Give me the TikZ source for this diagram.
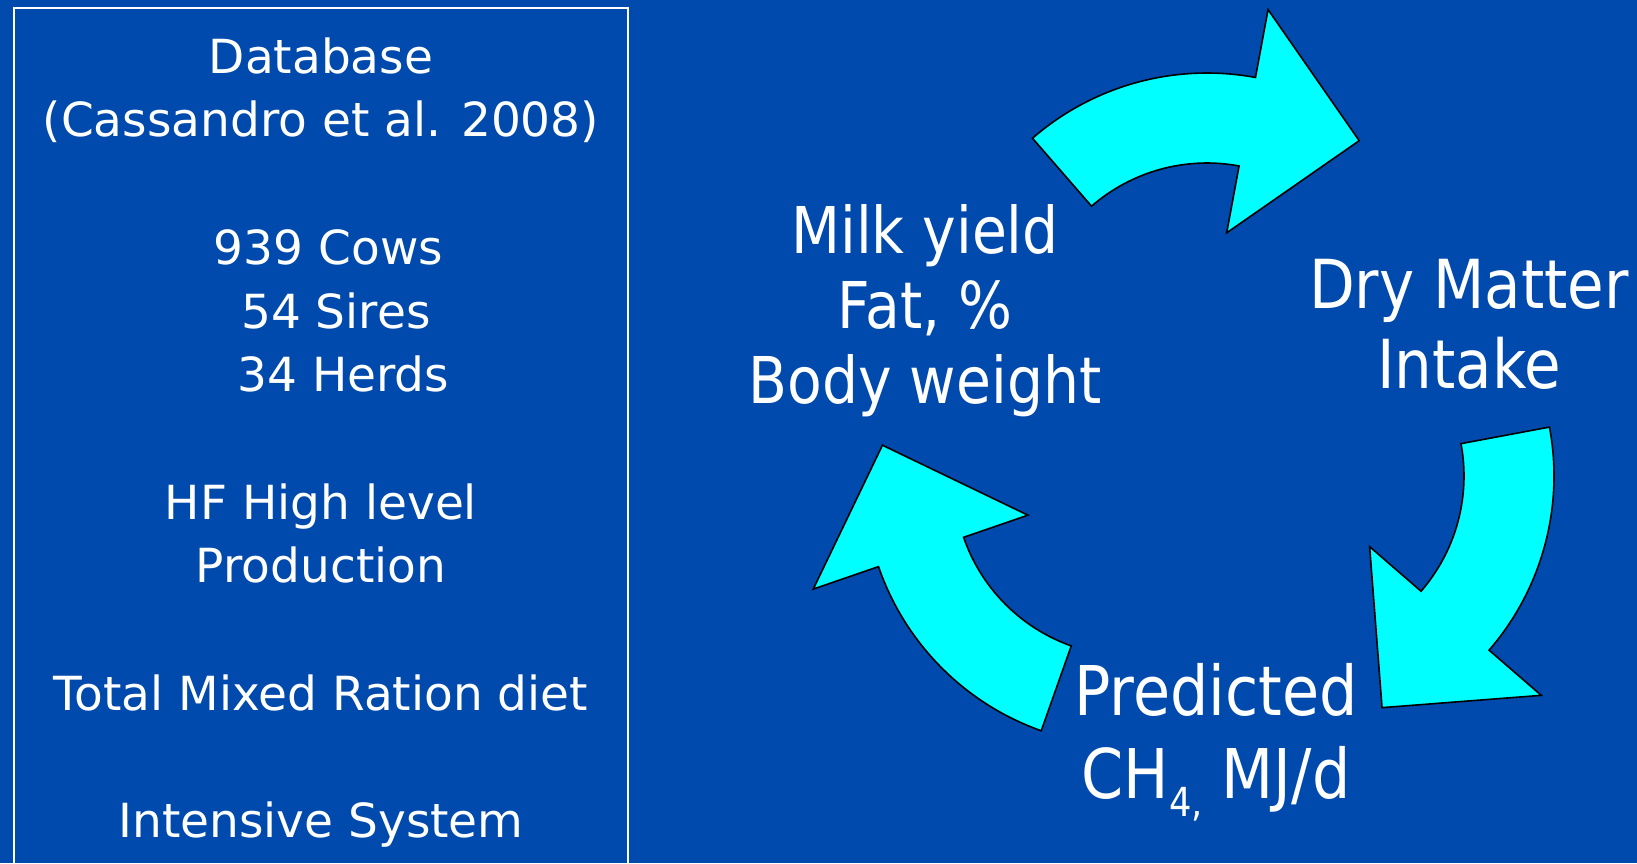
\documentclass[tikz,border=0pt]{standalone}
\usepackage{fontspec}
\setmainfont{DejaVu Sans}
\newfontfamily\labelfont[FakeStretch=0.88]{DejaVu Sans}
\usepackage{tikz}
\usetikzlibrary{calc}
\definecolor{slide}{RGB}{0,74,173}
\definecolor{flowfill}{RGB}{0,255,255}

% one curved block arrow of the cycle: centre, angle of the tail
\newcommand{\cyclearrow}[2]{%
  \draw[flow] ($(#1)+(#2:266)$) arc[start angle=#2, end angle=#2-51.5, radius=266]
    -- ($(#1)+(#2-51.5:335)$) -- ($(#1)+(#2-78.5:250)$) -- ($(#1)+(#2-51.5:108)$)
    -- ($(#1)+(#2-51.5:176)$) arc[start angle=#2-51.5, end angle=#2, radius=176] -- cycle;
}

\begin{document}
\begin{tikzpicture}[x=0.5pt, y=0.5pt,
  info/.style={anchor=base, inner sep=0pt, text=white, align=center,
    font=\fontsize{23.5}{31.85}\selectfont},
  stage/.style={anchor=base, inner sep=0pt, text=white, align=center},
  flow/.style={fill=flowfill, draw=black, line width=0.8pt, line join=miter}
]
\fill[slide] (0,0) rectangle (1637,-863);
\useasboundingbox (0,0) rectangle (1637,-863);

% data box (anchored on its last line)
\draw[white, line width=0.8pt] (14,-8) rectangle (628,-880);
\node[info] (data) at (321,-837.6) {Database\\(Cassandro et al. 2008)\\ \\
  ~939 Cows\\~~54 Sires\\~~~34 Herds\\ \\
  HF High level\\Production\\ \\
  Total Mixed Ration diet\\ \\
  Intensive System};

% cycle
\coordinate (ctop) at (1207,-339);
\coordinate (cright) at (1288,-476);
\coordinate (cleft) at (1130,-480);
\cyclearrow{ctop}{131}
\cyclearrow{cright}{10.6}
\cyclearrow{cleft}{250.5}

\node[stage, font=\labelfont\fontsize{32.25}{37.5}\selectfont] (milk) at (925,-403.3)
  {Milk yield\\Fat, \%\\Body weight};
\node[stage, font=\labelfont\fontsize{33.8}{40}\selectfont] (dmi) at (1469,-388.3)
  {Dry Matter\\Intake};
\node[stage, font=\labelfont\fontsize{34.3}{41.5}\selectfont] (ch4) at (1216,-798)
  {Predicted\\CH\raisebox{-9pt}{\fontsize{20}{20}\selectfont 4,} MJ/d};
\end{tikzpicture}
\end{document}
